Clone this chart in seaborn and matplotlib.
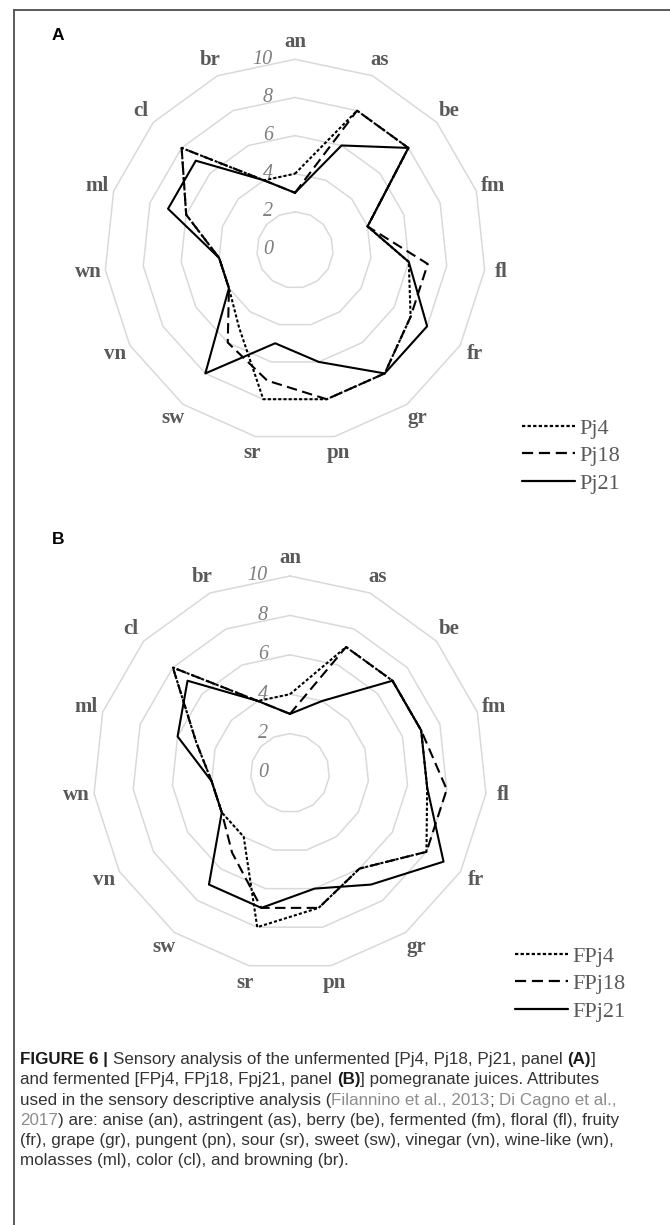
import numpy as np
import pandas as pd
import matplotlib
matplotlib.use("Agg")
import matplotlib.pyplot as plt
from matplotlib.lines import Line2D
import seaborn as sns

# Sensory attributes (clockwise from the top) and radial scale levels
attributes = ["an", "as", "be", "fm", "fl", "fr", "gr", "pn",
              "sr", "sw", "vn", "wn", "ml", "cl", "br"]
levels = [0, 2, 4, 6, 8, 10]

# Panel A: unfermented juices
pj4 = [4, 8, 8, 4, 6, 7, 8, 8, 8, 5, 4, 4, 6, 8, 4]
pj18 = [3, 8, 8, 4, 7, 7, 8, 8, 7, 6, 4, 4, 6, 8, 4]
pj21 = [3, 6, 8, 4, 6, 8, 8, 6, 5, 8, 4, 4, 7, 7, 4]

# Panel B: fermented juices
fpj4 = [4, 7, 7, 7, 7, 8, 6, 7, 8, 4, 4, 4, 5, 8, 4]
fpj18 = [3, 7, 7, 7, 8, 8, 6, 7, 7, 5, 4, 4, 5, 8, 4]
fpj21 = [3, 4, 7, 7, 7, 9, 7, 6, 7, 7, 4, 4, 6, 7, 4]

panel_a = {"Pj4": pj4, "Pj18": pj18, "Pj21": pj21}
panel_b = {"FPj4": fpj4, "FPj18": fpj18, "FPj21": fpj21}

W, H = 670, 1225
DPI = 100
sns.set_theme(style="white")
plt.rcParams["font.family"] = ["Liberation Serif", "DejaVu Serif"]

fig = plt.figure(figsize=(W / DPI, H / DPI), dpi=DPI)
fig.patch.set_facecolor("white")

GRID = "#d9d9d9"
LABEL = "#595959"
TICK = "#7f7f7f"
DASH_STYLES = [(1.5, 1.0), (5.0, 2.6), ""]


def px_axes(cx, cy, R):
    """Polar axes whose r=10 ring has radius R pixels around (cx, cy)."""
    rect = [(cx - R) / W, 1 - (cy + R) / H, 2 * R / W, 2 * R / H]
    ax = fig.add_axes(rect, projection="polar")
    ax.set_theta_zero_location("N")
    ax.set_theta_direction(-1)
    ax.set_ylim(0, 10)
    ax.axis("off")
    return ax


def radar(ax, series):
    n = len(attributes)
    theta = np.linspace(0, 2 * np.pi, n, endpoint=False)
    theta_c = np.append(theta, 2 * np.pi)

    # polygonal grid rings
    for lv in levels[1:]:
        ax.plot(theta_c, [lv] * (n + 1), color=GRID, lw=1.1, zorder=1)

    # radial scale labels along the top spoke
    for lv in levels:
        ax.annotate(str(lv), xy=(0, lv), xytext=(-22, 0),
                    textcoords="offset pixels", ha="right", va="center",
                    fontsize=14.5, style="italic", color=TICK,
                    annotation_clip=False)

    # attribute names
    for t, name in zip(theta, attributes):
        ax.text(t, 10.9, name, ha="center", va="center", fontsize=15,
                fontweight="bold", color=LABEL)

    rows = []
    for name, vals in series.items():
        closed = list(vals) + [vals[0]]
        for i, (t, v) in enumerate(zip(theta_c, closed)):
            rows.append({"theta": t, "score": v, "juice": name, "step": i})
    df = pd.DataFrame(rows)
    names = list(series.keys())
    sns.lineplot(data=df, x="theta", y="score", style="juice",
                 style_order=names, dashes=dict(zip(names, DASH_STYLES)),
                 color="black", linewidth=1.5, sort=False, estimator=None,
                 legend=False, ax=ax, zorder=3)
    for ln in ax.lines:
        ln.set_clip_on(False)
    return names


def legend(names, x, y):
    handles = []
    for d in DASH_STYLES:
        h = Line2D([], [], color="black", lw=1.6)
        if d:
            h.set_dashes(d)
        handles.append(h)
    leg = fig.legend(handles, names, loc="upper left",
                     bbox_to_anchor=(x / W, 1 - y / H), frameon=False,
                     fontsize=16, handlelength=2.4, handletextpad=0.2,
                     labelspacing=0.32, borderpad=0, borderaxespad=0)
    for t in leg.get_texts():
        t.set_color(LABEL)


ax_a = px_axes(295, 250, 190.7)
names_a = radar(ax_a, panel_a)
legend(names_a, 522, 418)

ax_b = px_axes(290, 773, 197)
names_b = radar(ax_b, panel_b)
legend(names_b, 515, 946)

# panel letters
fig.text(58 / W, 1 - 35 / H, "A", fontsize=12.5, fontweight="bold",
         family="Liberation Sans", ha="center", va="center", color="black")
fig.text(58 / W, 1 - 540 / H, "B", fontsize=12.5, fontweight="bold",
         family="Liberation Sans", ha="center", va="center", color="black")

# outer frame (top and left edges)
fig.add_artist(Line2D([13.5 / W, 1], [1 - 9.5 / H, 1 - 9.5 / H],
                      transform=fig.transFigure, color="#4d4d4d", lw=1.3))
fig.add_artist(Line2D([13.5 / W, 13.5 / W], [1 - 9.5 / H, 0],
                      transform=fig.transFigure, color="#4d4d4d", lw=1.3))

# caption with mixed styles
TXT = "#333333"
LINK = "#8c8c8c"
caption = [
    [("FIGURE 6 | ", "b", "#1a1a1a"),
     ("Sensory analysis of the unfermented [Pj4, Pj18, Pj21, panel ", "n", TXT),
     ("(A)", "b", "#1a1a1a"), ("]", "n", TXT)],
    [("and fermented [FPj4, FPj18, Fpj21, panel ", "n", TXT),
     ("(B)", "b", "#1a1a1a"),
     ("] pomegranate juices. Attributes", "n", TXT)],
    [("used in the sensory descriptive analysis (", "n", TXT),
     ("Filannino et al., 2013", "n", LINK), ("; ", "n", TXT),
     ("Di Cagno et al.,", "n", LINK)],
    [("2017", "n", LINK),
     (") are: anise (an), astringent (as), berry (be), fermented (fm), floral (fl), fruity", "n", TXT)],
    [("(fr), grape (gr), pungent (pn), sour (sr), sweet (sw), vinegar (vn), wine-like (wn),", "n", TXT)],
    [("molasses (ml), color (cl), and browning (br).", "n", TXT)],
]

CAP_FAMILY = ["Liberation Sans", "DejaVu Sans"]
CAP_X0 = 20.0
FIT_LINE = 4          # plain-text line used to size the caption font
FIT_WIDTH = 594.0     # its width in pixels

fig.canvas.draw()
renderer = fig.canvas.get_renderer()


def line_width(line, fs):
    total = 0.0
    for text, wt, col in line:
        t = fig.text(0, 0, text, fontsize=fs, family=CAP_FAMILY,
                     fontweight="bold" if wt == "b" else "normal")
        total += t.get_window_extent(renderer=renderer).width
        t.remove()
    return total


probe = 10.0
cap_fs = probe * FIT_WIDTH / line_width(caption[FIT_LINE], probe)

y0 = 1064
for k, line in enumerate(caption):
    x = CAP_X0
    y = y0 + k * 20.3
    for text, wt, col in line:
        t = fig.text(x / W, 1 - y / H, text, fontsize=cap_fs,
                     family=CAP_FAMILY,
                     fontweight="bold" if wt == "b" else "normal",
                     color=col, ha="left", va="baseline")
        x += t.get_window_extent(renderer=renderer).width

fig.savefig("out.png", dpi=DPI, facecolor="white")
